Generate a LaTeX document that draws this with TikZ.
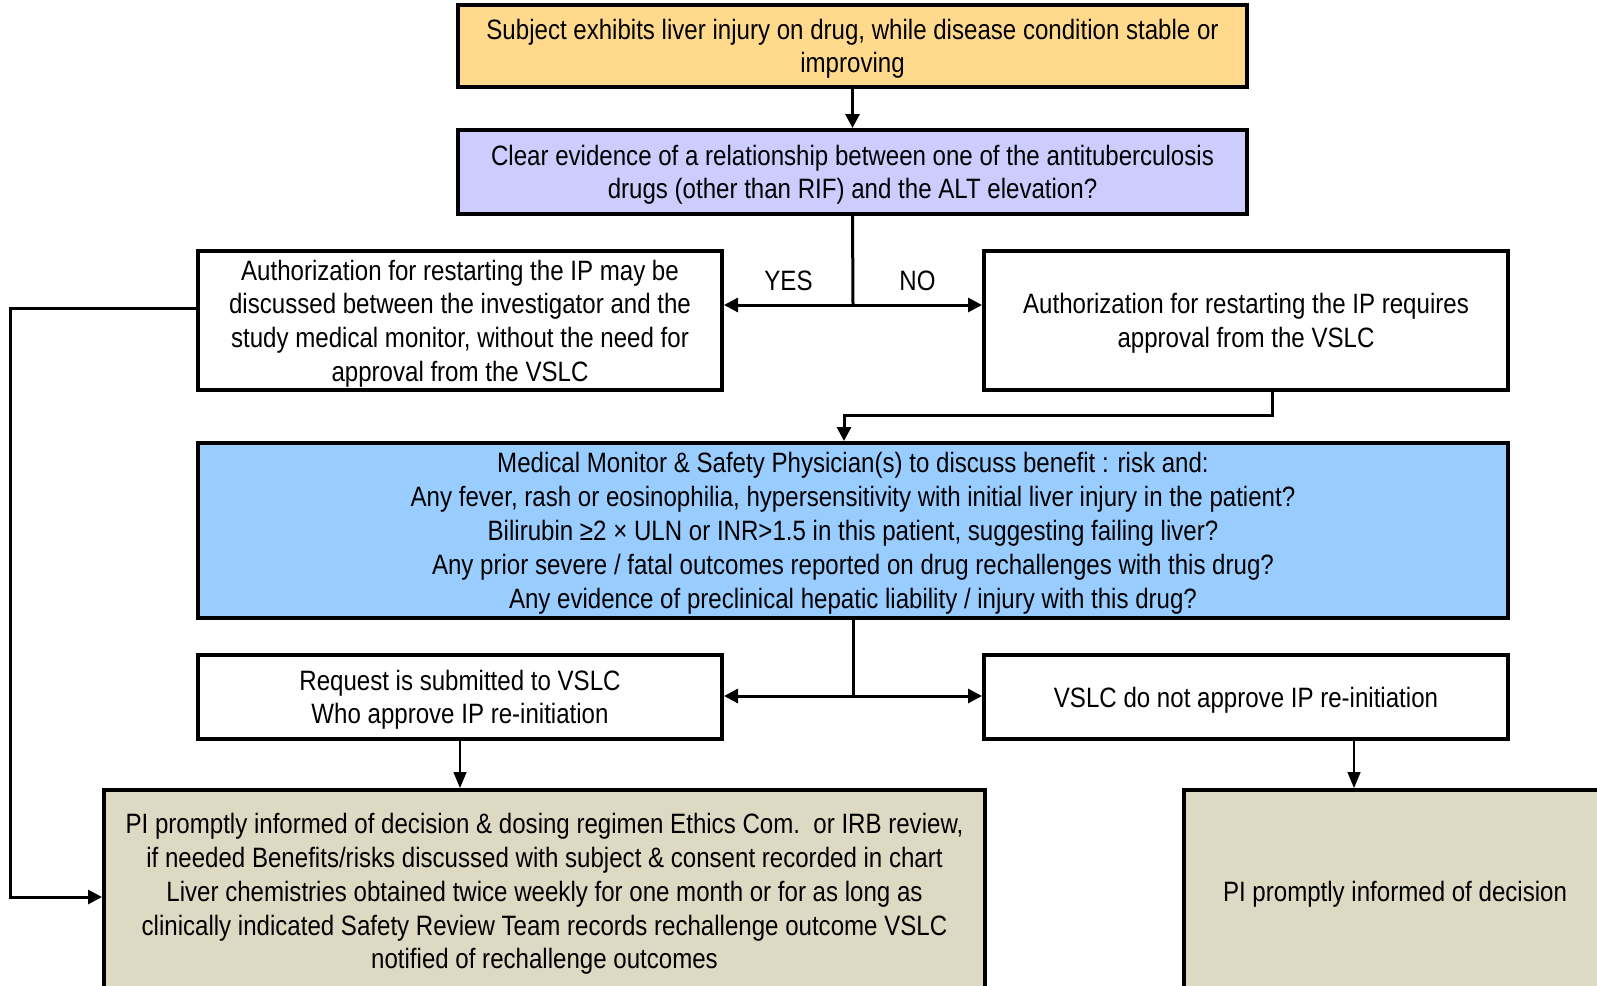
\documentclass[tikz,border=0pt]{standalone}
\usepackage{fontspec}
\setmainfont{Liberation Sans}[FakeStretch=0.86]
\usepackage{tikz}
\usetikzlibrary{arrows.meta, positioning, calc}
\definecolor{startorange}{RGB}{255, 217, 140}
\definecolor{querylilac}{RGB}{204, 204, 255}
\definecolor{reviewblue}{RGB}{153, 204, 255}
\definecolor{outcometan}{RGB}{221, 217, 195}

\begin{document}
\begin{tikzpicture}[x=1pt, y=-1pt,
    box/.style={draw, line width=4pt, inner sep=0pt, align=center, text depth=0pt,
      font=\fontsize{28}{33.6}\selectfont},
    conn/.style={line width=3pt},
    arr/.style={conn, -{Triangle[length=14pt, width=14pt]}},
    thinarr/.style={line width=1.5pt, -{Triangle[length=16pt, width=13pt]}}
  ]
  \clip (0,0) rectangle (1597,985);
  \fill[white] (0,0) rectangle (1597,985);

  % Start
  \node[box, fill=startorange, minimum width=789pt, minimum height=82pt] (start) at (852.5,46)
    {Subject exhibits liver injury on drug, while disease condition stable or\\improving};

  % Question
  \node[box, fill=querylilac, minimum width=789pt, minimum height=84pt] (query) at (852.5,172)
    {Clear evidence of a relationship between one of the antituberculosis\\drugs (other than RIF) and the ALT elevation?};

  % Yes / No branches
  \node[box, minimum width=524pt, minimum height=139pt] (yesbox) at (460,320.5)
    {Authorization for restarting the IP may be\\discussed between the investigator and the\\study medical monitor, without the need for\\approval from the VSLC};
  \node[box, minimum width=524pt, minimum height=139pt] (nobox) at (1246,320.5)
    {Authorization for restarting the IP requires\\approval from the VSLC};

  % Benefit : risk review
  \node[box, fill=reviewblue, minimum width=1310pt, minimum height=175pt,
    font=\fontsize{28}{34}\selectfont] (review) at (853,530.5)
    {Medical Monitor \& Safety Physician(s) to discuss benefit : risk and:\\
     Any fever, rash or eosinophilia, hypersensitivity with initial liver injury in the patient?\\
     Bilirubin ≥2 × ULN or INR>1.5 in this patient, suggesting failing liver?\\
     Any prior severe / fatal outcomes reported on drug rechallenges with this drug?\\
     Any evidence of preclinical hepatic liability / injury with this drug?};

  % VSLC decision
  \node[box, minimum width=524pt, minimum height=84pt] (approve) at (460,697)
    {Request is submitted to VSLC\\Who approve IP re-initiation};
  \node[box, minimum width=524pt, minimum height=84pt] (reject) at (1246,697)
    {VSLC do not approve IP re-initiation};

  % Outcomes
  \node[box, fill=outcometan, minimum width=881pt, minimum height=202pt,
    font=\fontsize{28}{33.9}\selectfont] (restart) at (544.5,891)
    {PI promptly informed of decision \& dosing regimen Ethics Com.\ \ or IRB review,\\
     if needed Benefits/risks discussed with subject \& consent recorded in chart\\
     Liver chemistries obtained twice weekly for one month or for as long as\\
     clinically indicated Safety Review Team records rechallenge outcome VSLC\\
     notified of rechallenge outcomes};
  \node[box, fill=outcometan, minimum width=422pt, minimum height=202pt] (informed) at (1395,891)
    {PI promptly informed of decision};

  % Connectors
  \coordinate (split1) at (853,305);
  \coordinate (split2) at (853,696);
  \coordinate (lefttop) at (10,308);
  \coordinate (leftbot) at (10,897);
  \coordinate (bend1) at (1272,415);
  \coordinate (bend2) at (844,415);
  \coordinate (rejdrop) at (1354,750);

  \draw[arr] (start.south) -- (query.north);
  \draw[conn] (query.south) -- (split1);
  \draw[arr] (split1) -- node[above=9pt, font=\fontsize{28}{33.6}\selectfont] (yeslabel) {YES} (split1 -| yesbox.east);
  \draw[arr] (split1) -- node[above=9pt, font=\fontsize{28}{33.6}\selectfont] (nolabel) {NO} (split1 -| nobox.west);

  \draw[arr] (lefttop -| yesbox.west) -- (lefttop) -- (leftbot) -- (leftbot -| restart.west);
  \draw[arr] (bend1 |- nobox.south) -- (bend1) -- (bend2) -- (bend2 |- review.north);

  \draw[conn] (review.south) -- (split2);
  \draw[arr] (split2) -- (split2 -| approve.east);
  \draw[arr] (split2) -- (split2 -| reject.west);

  \draw[thinarr] (approve.south) -- (approve.south |- restart.north);
  \draw[thinarr] (rejdrop |- reject.south) -- (rejdrop |- informed.north);
\end{tikzpicture}
\end{document}
